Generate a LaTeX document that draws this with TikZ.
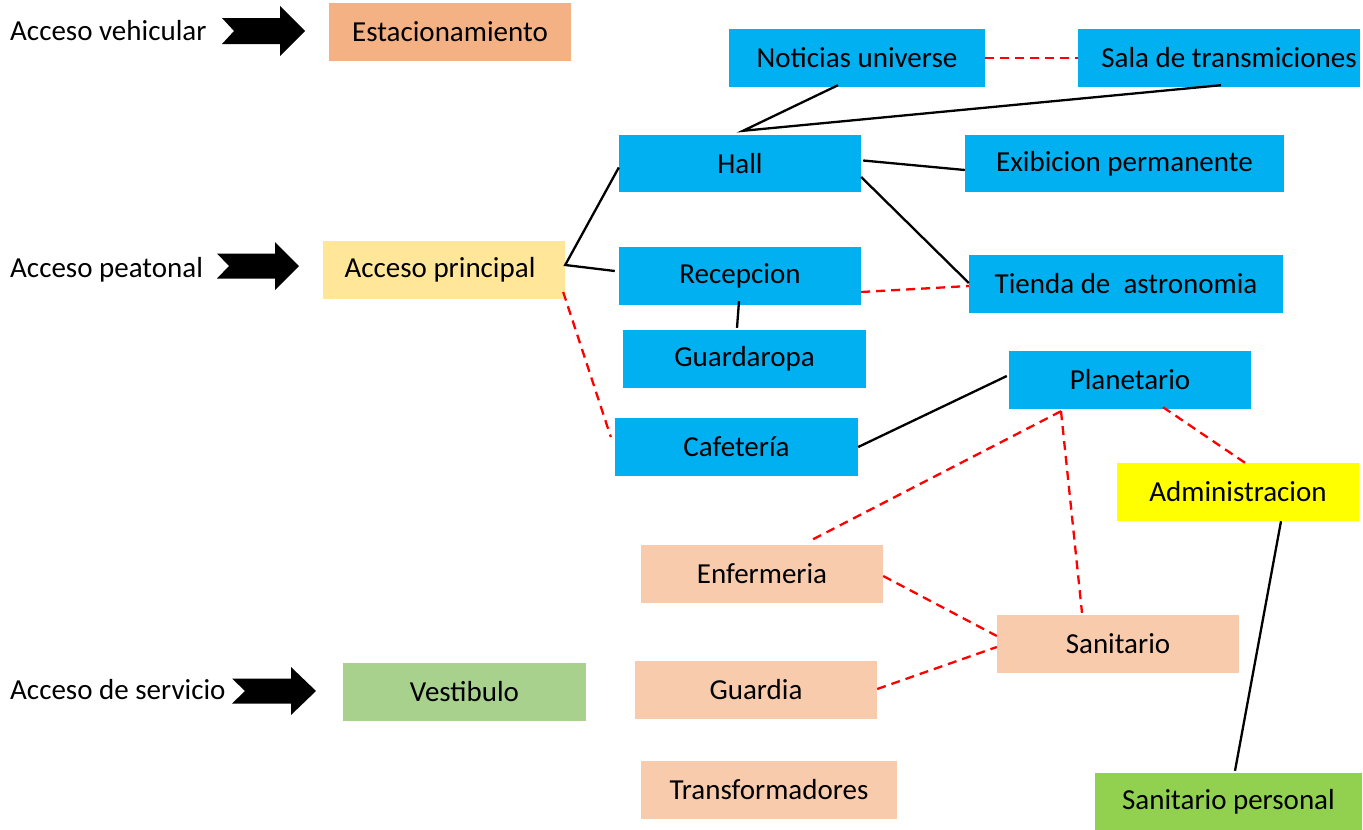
\documentclass[tikz,border=0pt]{standalone}
\usepackage{fontspec}
\setmainfont{Carlito}
\usetikzlibrary{calc}
\definecolor{cblue}{HTML}{00B0F0}
\definecolor{corange}{HTML}{F4B183}
\definecolor{clightyellow}{HTML}{FFE699}
\definecolor{cyellow}{HTML}{FFFF00}
\definecolor{csalmon}{HTML}{F8CBAD}
\definecolor{cgreenA}{HTML}{A9D18E}
\definecolor{cgreenB}{HTML}{92D050}
\definecolor{cred}{HTML}{FF0000}
\tikzset{
  box/.style={rectangle, inner sep=0pt, minimum height=58pt, font=\fontsize{29}{34}\selectfont, text=black},
  bluebox/.style={box, fill=cblue},
  salbox/.style={box, fill=csalmon},
  lbl/.style={anchor=west, inner sep=0pt, font=\fontsize{29}{34}\selectfont},
  solidlink/.style={draw=black, line width=2.3pt},
  dashlink/.style={draw=cred, line width=2.3pt, dash pattern=on 9pt off 6pt},
  blockarrow/.style={fill=black, draw=none}
}
\begin{document}
\begin{tikzpicture}[x=1pt,y=-1pt]
\useasboundingbox (0,0) rectangle (1363,830);
% labels
\node[lbl] (lv) at (10,31) {Acceso vehicular};
\node[lbl] (lp) at (10,270) {Acceso peatonal};
\node[lbl] (ls) at (10,690) {Acceso de servicio};
% block arrows
\fill[blockarrow] (222,18) -- (280,18) -- (280,6) -- (305,31) -- (280,56) -- (280,44) -- (222,44) -- (234,31) -- cycle;
\fill[blockarrow] (217,253.5) -- (275,253.5) -- (275,242) -- (299,266) -- (275,290) -- (275,278.5) -- (217,278.5) -- (229,266) -- cycle;
\fill[blockarrow] (232,678.5) -- (291,678.5) -- (291,667) -- (316,691) -- (291,715) -- (291,703.5) -- (232,703.5) -- (245,691) -- cycle;
% boxes
\node[box, fill=corange, minimum width=242pt] (est) at (450,32) {Estacionamiento};
\node[bluebox, minimum width=256pt] (not) at (857,58) {Noticias universe};
\node[bluebox, minimum width=282pt] (sala) at (1219,58) {\hspace*{20pt}Sala de transmiciones};
\node[bluebox, minimum width=242pt, minimum height=57pt] (hall) at (740,163.5) {Hall};
\node[bluebox, minimum width=319pt, minimum height=57pt] (exib) at (1124.5,163.5) {Exibicion permanente};
\node[box, fill=clightyellow, minimum width=242pt] (ap) at (444,270) {Acceso principal\hspace*{8pt}};
\node[bluebox, minimum width=242pt] (rec) at (740,276) {Recepcion};
\node[bluebox, minimum width=314pt] (tienda) at (1126,284) {Tienda de\ \ astronomia};
\node[bluebox, minimum width=243pt] (guard) at (744.5,359) {Guardaropa};
\node[bluebox, minimum width=242pt] (plan) at (1130,380) {Planetario};
\node[bluebox, minimum width=243pt] (cafe) at (736.5,447) {Cafetería};
\node[box, fill=cyellow, minimum width=242pt] (admin) at (1238,492) {Administracion};
\node[salbox, minimum width=242pt] (enf) at (762,574) {Enfermeria};
\node[salbox, minimum width=242pt] (san) at (1118,644) {Sanitario};
\node[box, fill=cgreenA, minimum width=243pt] (vest) at (464.5,692) {Vestibulo};
\node[salbox, minimum width=242pt] (guardia) at (756,690) {Guardia};
\node[salbox, minimum width=256pt] (trans) at (769,790) {Transformadores};
\node[box, fill=cgreenB, minimum width=267pt] (sp) at (1228.5,802) {Sanitario personal};
% solid connectors
\draw[solidlink] ([xshift=-19pt,yshift=2pt]not.south) -- ([xshift=3pt,yshift=4pt]hall.north) -- ([xshift=2pt,yshift=2pt]sala.south);
\draw[solidlink] ([xshift=2pt,yshift=3pt]hall.east) -- ([yshift=-6.5pt]exib.west);
\draw[solidlink] ([yshift=-13.5pt]hall.east) -- ([yshift=1pt]tienda.west);
\draw[solidlink] ([yshift=-4pt]hall.west) -- ([yshift=5pt]ap.east) -- ([xshift=-4pt,yshift=5pt]rec.west);
\draw[solidlink] ([xshift=-1pt,yshift=4pt]rec.south) -- ([xshift=-7.5pt,yshift=2pt]guard.north);
\draw[solidlink] (cafe.east) -- ([xshift=-2pt,yshift=4pt]plan.west);
\draw[solidlink] ([xshift=43pt]admin.south) -- ([xshift=6.5pt,yshift=2pt]sp.north);
% dashed connectors
\draw[dashlink] (not.east) -- (sala.west);
\draw[dashlink] ([xshift=-2pt,yshift=-22pt]ap.east) -- ([xshift=-4pt,yshift=10pt]cafe.west);
\draw[dashlink] ([yshift=-16pt]rec.east) -- ([yshift=-2pt]tienda.west);
\draw[dashlink] ([xshift=-69pt,yshift=-2pt]plan.south) -- ([xshift=50pt,yshift=5pt]enf.north);
\draw[dashlink] ([xshift=-69pt,yshift=-2pt]plan.south) -- ([xshift=-36pt,yshift=2pt]san.north);
\draw[dashlink] ([xshift=33pt,yshift=2pt]plan.south) -- ([xshift=7pt]admin.north);
\draw[dashlink] ([yshift=-2pt]enf.east) -- ([yshift=8pt]san.west);
\draw[dashlink] ([yshift=1pt]guardia.east) -- ([yshift=-3pt]san.west);
\end{tikzpicture}
\end{document}
